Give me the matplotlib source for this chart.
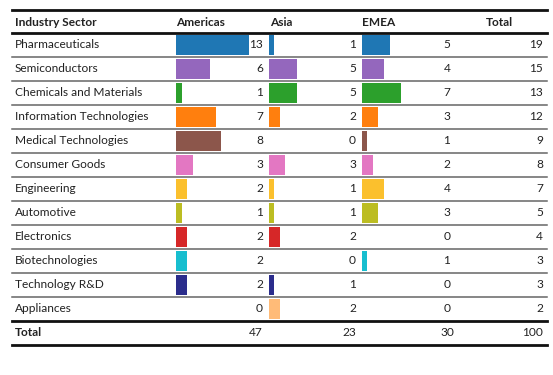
import matplotlib
matplotlib.use("Agg")
from matplotlib import pyplot as plt

sectors = ['Pharmaceuticals', 'Semiconductors', 'Chemicals and Materials',
           'Information Technologies', 'Medical Technologies', 'Consumer Goods',
           'Engineering', 'Automotive', 'Electronics', 'Biotechnologies',
           'Technology R&D', 'Appliances']
americas = [13, 6, 1, 7, 8, 3, 2, 1, 2, 2, 2, 0]
asia = [1, 5, 5, 2, 0, 3, 1, 1, 2, 0, 1, 2]
emea = [5, 4, 7, 3, 1, 2, 4, 3, 0, 1, 0, 0]
totals = [19, 15, 13, 12, 9, 8, 7, 5, 4, 3, 3, 2]
col_totals = [47, 23, 30, 100]
headers = ['Industry Sector', 'Americas', 'Asia', 'EMEA', 'Total']
colors = ['#1f77b4', '#9467bd', '#2ca02c', '#ff7f0e', '#8c564b', '#e377c2',
          '#fbc02d', '#bcbd22', '#d62728', '#17becf', '#2b2d8c', '#ffbb78']

plt.rcParams['font.family'] = ['Lato', 'DejaVu Sans']

fig = plt.figure(figsize=(5.53, 3.75), dpi=100)
ax = fig.add_axes([0, 0, 1, 1])
ax.set_xlim(0, 553)
ax.set_ylim(375, 0)
ax.axis('off')

row_h = 24
top = 33
unit = 5.65
fs = 8.6
x0, x1 = 12, 547
txt = '#222222'

rows = [top + row_h * (i + 0.5) for i in range(len(sectors))]

# bars
ax.barh(rows, [v * unit for v in americas], left=176, height=20, color=colors)
ax.barh(rows, [v * unit for v in asia], left=268.5, height=20, color=colors)
ax.barh(rows, [v * unit for v in emea], left=361.5, height=20, color=colors)

# header
hy = 22
hx = [15, 176, 270, 362, 486]
for x, h in zip(hx, headers):
    ax.text(x, hy, h, fontsize=fs, fontweight='bold', va='center', ha='left', color=txt)

# body text
for i, y in enumerate(rows):
    ax.text(15, y, sectors[i], fontsize=fs, va='center', ha='left', color=txt)
    ax.text(263, y, str(americas[i]), fontsize=fs, va='center', ha='right', color=txt)
    ax.text(356, y, str(asia[i]), fontsize=fs, va='center', ha='right', color=txt)
    ax.text(447, y, str(emea[i]), fontsize=fs, va='center', ha='center', color=txt)
    ax.text(543, y, str(totals[i]), fontsize=fs, va='center', ha='right', color=txt)
    if i < len(sectors) - 1:
        ax.plot([x0, x1], [top + row_h * (i + 1)] * 2, color='#666666', lw=1.1)

# total row
ty = top + row_h * len(sectors) + 12
ax.text(15, ty, 'Total', fontsize=fs, fontweight='bold', va='center', ha='left', color=txt)
ax.text(263, ty, str(col_totals[0]), fontsize=fs, va='center', ha='right', color=txt)
ax.text(356, ty, str(col_totals[1]), fontsize=fs, va='center', ha='right', color=txt)
ax.text(447, ty, str(col_totals[2]), fontsize=fs, va='center', ha='center', color=txt)
ax.text(543, ty, str(col_totals[3]), fontsize=fs, va='center', ha='right', color=txt)

# thick rules
for y in [10, top, top + row_h * len(sectors), top + row_h * (len(sectors) + 1)]:
    ax.plot([x0, x1], [y, y], color='#111111', lw=2.0)

fig.savefig('out.png', dpi=100)
